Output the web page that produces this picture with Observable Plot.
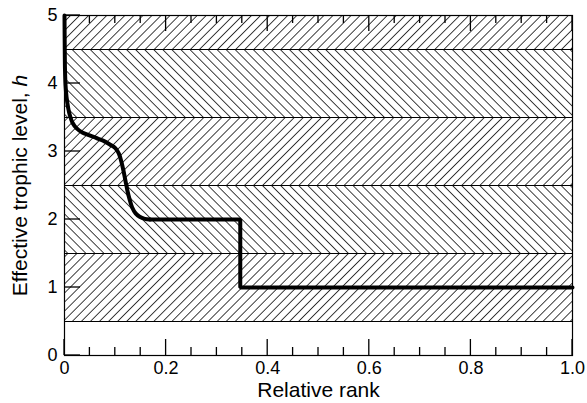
<!DOCTYPE html>
<html><head><meta charset="utf-8">
<script src="https://cdn.jsdelivr.net/npm/d3@7"></script>
<script src="https://cdn.jsdelivr.net/npm/@observablehq/plot@0.6"></script>
<style>body{margin:0;background:#fff}</style>
</head><body><div id="chart"></div>
<script>
// Hatched trophic-level bands
const bandLow  = [0.5, 1.5, 2.5, 3.5, 4.5];
const bandHigh = [1.5, 2.5, 3.5, 4.5, 5.0];
const bandHatch = ["fwd", "back", "fwd", "back", "fwd"];
const boundaries = [0.5, 1.5, 2.5, 3.5, 4.5];

// Smooth part of the curve
const curveX = [0, 0.0005, 0.001, 0.002, 0.004, 0.007, 0.011, 0.016, 0.024, 0.035, 0.048, 0.062, 0.076, 0.09, 0.1, 0.107, 0.112, 0.116, 0.12, 0.124, 0.128, 0.133, 0.14, 0.148, 0.158, 0.168];
const curveH = [5, 4.5, 4.2, 3.98, 3.8, 3.65, 3.52, 3.42, 3.34, 3.28, 3.24, 3.2, 3.16, 3.1, 3.05, 2.97, 2.85, 2.72, 2.57, 2.42, 2.3, 2.18, 2.09, 2.04, 2.01, 2.0];
// Step part
const stepX = [0.168, 0.346, 0.346, 1.0];
const stepH = [2.0, 2.0, 1.0, 1.0];

// Ticks
const xMajor = [0, 0.2, 0.4, 0.6, 0.8, 1.0];
const xMinor = [0.05, 0.1, 0.15, 0.25, 0.3, 0.35, 0.45, 0.5, 0.55, 0.65, 0.7, 0.75, 0.85, 0.9, 0.95];
const yMajor = [0, 1, 2, 3, 4, 5];

const W = 587, H = 403, mL = 64, mR = 15, mT = 15, mB = 48;
const X0 = 0, X1 = 1, Y0 = 0, Y1 = 5;
const majorLen = 16, minorLen = 8, tickW = 1.3;

const bands = bandLow.map((lo, i) => ({lo, hi: bandHigh[i], hatch: bandHatch[i]}));
const curve = curveX.map((x, i) => ({x, h: curveH[i]}));
const step = stepX.map((x, i) => ({x, h: stepH[i]}));

const plot = Plot.plot({
  width: W, height: H,
  marginLeft: mL, marginRight: mR, marginTop: mT, marginBottom: mB,
  style: {fontFamily: "'Liberation Sans', Arial, sans-serif", background: "white"},
  x: {domain: [X0, X1]},
  y: {domain: [Y0, Y1]},
  marks: [
    Plot.rect(bands.filter(d => d.hatch === "fwd"), {x1: X0, x2: X1, y1: "lo", y2: "hi", fill: "url(#hatchF)"}),
    Plot.rect(bands.filter(d => d.hatch === "back"), {x1: X0, x2: X1, y1: "lo", y2: "hi", fill: "url(#hatchB)"}),
    Plot.ruleY(boundaries, {y: d => d, stroke: "black", strokeWidth: 1}),
    Plot.frame({stroke: "black", strokeWidth: 1.2}),
    Plot.line(curve, {x: "x", y: "h", stroke: "black", strokeWidth: 4, curve: "catmull-rom"}),
    Plot.line(step, {x: "x", y: "h", stroke: "black", strokeWidth: 4, strokeLinejoin: "miter"}),
    Plot.axisX(xMajor, {tickSize: 0, tickPadding: 6, fontSize: 18, label: null, tickFormat: d => d === 0 ? "0" : d.toFixed(1)}),
    Plot.axisY(yMajor, {tickSize: 0, tickPadding: 7, fontSize: 18, label: null, tickFormat: d => String(d)}),
    Plot.text(["Relative rank"], {text: d => d, frameAnchor: "bottom", lineAnchor: "middle", textAnchor: "middle", dy: 35, fontSize: 21}),
    Plot.text(["Effective trophic level, h"], {text: d => d, frameAnchor: "left", lineAnchor: "middle", textAnchor: "middle", dx: -44, rotate: -90, fontSize: 21, className: "ylab"})
  ]
});

const svg = d3.select(plot);
const defs = svg.insert("defs", ":first-child");
function hatch(id, angle) {
  const p = defs.append("pattern").attr("id", id).attr("patternUnits", "userSpaceOnUse")
    .attr("width", 6.4).attr("height", 10).attr("patternTransform", `rotate(${angle})`);
  p.append("rect").attr("width", 6.4).attr("height", 10).attr("fill", "white");
  p.append("line").attr("x1", 3.2).attr("x2", 3.2).attr("y1", -1).attr("y2", 11)
    .attr("stroke", "#222").attr("stroke-width", 0.9);
}
hatch("hatchF", 45);
hatch("hatchB", -45);

// Inward ticks as thin filled rectangles, placed with Plot's own x and y scales
const sx = plot.scale("x"), sy = plot.scale("y");
const yBot = sy.apply(Y0), yTop = sy.apply(Y1), xLeft = sx.apply(X0);
const tg = svg.append("g").attr("fill", "black").attr("stroke", "none");
function xticks(vals, len) {
  vals.forEach(v => {
    const cx = sx.apply(v);
    tg.append("rect").attr("x", cx - tickW / 2).attr("width", tickW).attr("y", yBot - len).attr("height", len);
    tg.append("rect").attr("x", cx - tickW / 2).attr("width", tickW).attr("y", yTop).attr("height", len);
  });
}
xticks(xMajor, majorLen);
xticks(xMinor, minorLen);
yMajor.forEach(v => {
  const cy = sy.apply(v);
  tg.append("rect").attr("x", xLeft).attr("width", majorLen).attr("y", cy - tickW / 2).attr("height", tickW);
});

const yl = svg.select(".ylab text");
yl.text("Effective trophic level, ");
yl.append("tspan").attr("font-style", "italic").text("h");

document.getElementById("chart").appendChild(plot);
</script>
</body></html>
